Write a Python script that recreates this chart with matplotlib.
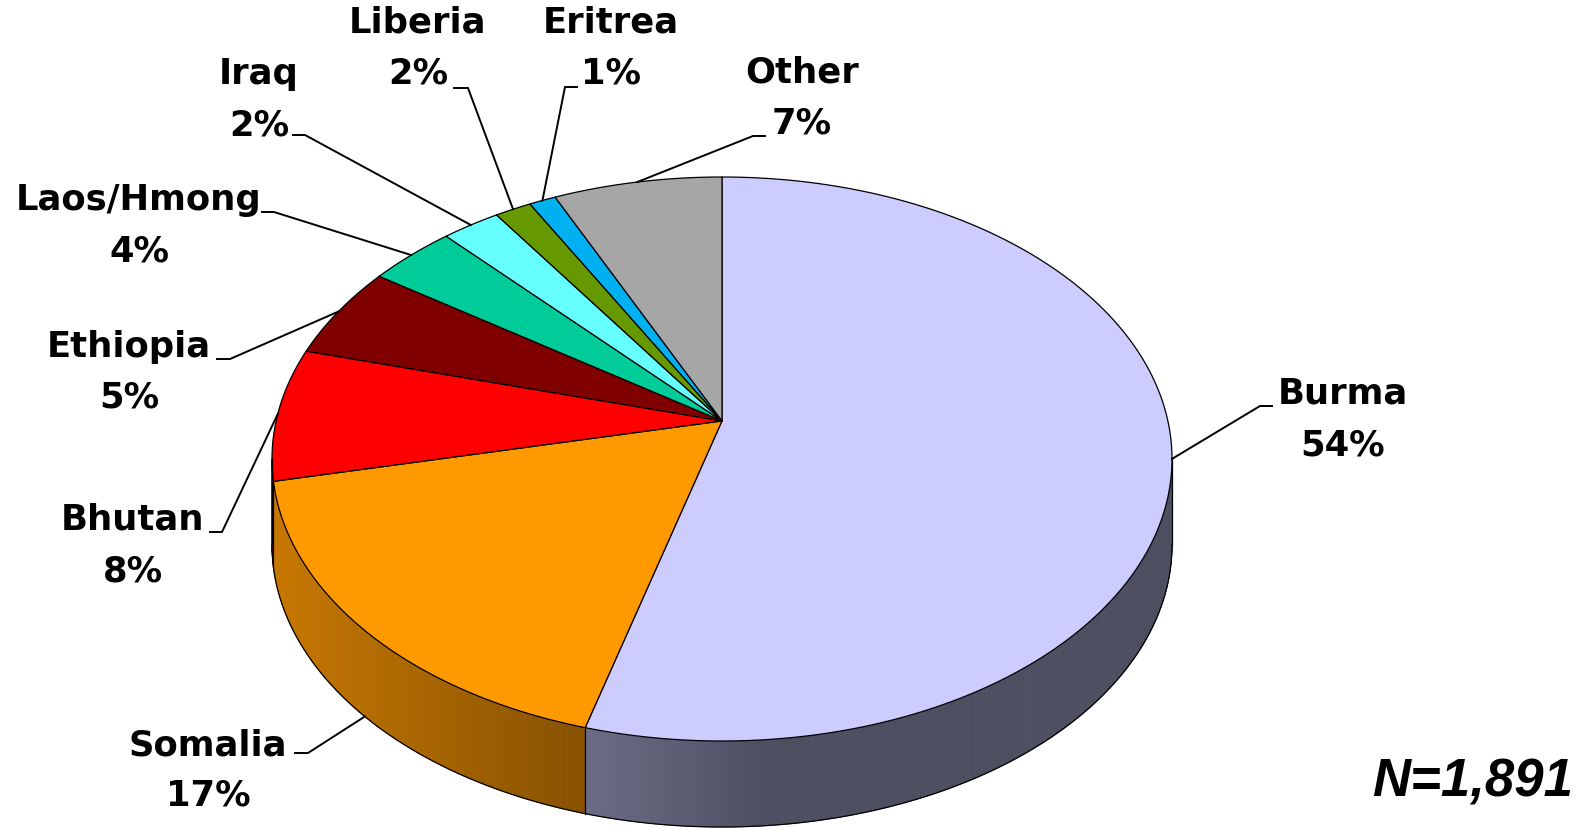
import numpy as np
import matplotlib.pyplot as plt
from matplotlib.patches import Polygon
from matplotlib.collections import PolyCollection

# Refugee arrivals by country of origin (percent, clockwise from 12 o'clock)
countries = ['Burma', 'Somalia', 'Bhutan', 'Ethiopia', 'Laos/Hmong',
             'Iraq', 'Liberia', 'Eritrea', 'Other']
shares = [54.3, 17.3, 7.6, 5.3, 3.6, 2.4, 1.5, 1.1, 6.9]
colors = ['#CCCCFF', '#FF9900', '#FF0000', '#800000', '#00CC99',
          '#66FFFF', '#669900', '#00B0F0', '#A6A6A6']
total_n = '1,891'

# label layout (pixels): name centre, leader elbow, leader tick end
name_pos = [(1343, 394), (208, 745), (133, 520), (129, 347), (139, 200),
            (259, 74), (418, 22), (611, 22), (802, 72)]
elbows = [(1260, 407), (308, 754), (222, 533), (230, 360), (274, 213),
          (305, 136), (468, 89), (565, 88), (753, 137)]
ticks = [(1272, 407), (295, 754), (210, 533), (217, 360), (262, 213),
         (293, 136), (454, 89), (577, 88), (765, 137)]

# pie geometry in pixels
cx, cy = 722, 460
rx, ry = 450, 282
depth = 86
tilt = 0.135   # perspective: centre of disc sits above centre of ellipse


def rim(t):
    u0, v0 = np.sin(t), np.cos(t)
    den = 1 + tilt * v0
    u = u0 * np.sqrt(1 - tilt ** 2) / den
    v = (v0 + tilt) / den
    return cx + rx * u, cy - ry * v


def shade(x):
    u = (x - cx) / rx
    return 0.38 + 0.40 * np.clip((0.1 - u) / 1.1, 0, 1)


fig = plt.figure(figsize=(15.94, 8.29), dpi=100)
ax = fig.add_axes([0, 0, 1, 1])
ax.set_xlim(0, 1594)
ax.set_ylim(829, 0)
ax.axis('off')

bounds = np.concatenate([[0], np.cumsum(shares)]) / np.sum(shares) * 2 * np.pi
t_lo = np.arccos(-tilt)
t_hi = 2 * np.pi - t_lo

# side wall (front half only)
quads, qcols = [], []
for i, col in enumerate(colors):
    a, b = max(bounds[i], t_lo), min(bounds[i + 1], t_hi)
    if a >= b:
        continue
    ts = np.linspace(a, b, max(int((b - a) * 180), 3))
    xs, ys = rim(ts)
    base = np.array(plt.matplotlib.colors.to_rgb(col))
    for k in range(len(ts) - 1):
        quads.append([(xs[k], ys[k]), (xs[k + 1], ys[k + 1]),
                      (xs[k + 1], ys[k + 1] + depth), (xs[k], ys[k] + depth)])
        qcols.append(base * shade((xs[k] + xs[k + 1]) / 2))
ax.add_collection(PolyCollection(quads, facecolors=qcols, edgecolors=qcols,
                                 linewidths=0.6))

ts = np.linspace(t_lo, t_hi, 400)
xs, ys = rim(ts)
ax.plot(xs, ys + depth, color='black', lw=0.9)
for t in [t_lo, t_hi] + [b for b in bounds if t_lo < b < t_hi]:
    x, y = rim(t)
    ax.plot([x, x], [y, y + depth], color='black', lw=0.9)

# top face
apex = (cx, cy - ry * tilt)
for i, col in enumerate(colors):
    ts = np.linspace(bounds[i], bounds[i + 1], 200)
    xs, ys = rim(ts)
    pts = [apex] + list(zip(xs, ys))
    ax.add_patch(Polygon(pts, closed=True, facecolor=col, edgecolor='black',
                         lw=0.9, joinstyle='round'))

# labels with leader lines
for i, name in enumerate(countries):
    mid = (bounds[i] + bounds[i + 1]) / 2
    px, py = rim(mid)
    if t_lo < mid < t_hi:
        py += depth
    ax.plot([px, elbows[i][0], ticks[i][0]], [py, elbows[i][1], ticks[i][1]],
            color='black', lw=1.4, solid_joinstyle='miter')
    nx, ny = name_pos[i]
    ax.text(nx, ny, name, ha='center', va='center', fontsize=25.5,
            fontweight='bold', family='DejaVu Sans')
    ax.text(nx, ny + 51, f'{round(shares[i])}%', ha='center', va='center',
            fontsize=25.5, fontweight='bold', family='DejaVu Sans')

ax.text(1573, 783, f'N={total_n}', ha='right', va='center', fontsize=38,
        fontweight='bold', style='italic', family='Liberation Sans')

fig.savefig('out.png', dpi=100)
